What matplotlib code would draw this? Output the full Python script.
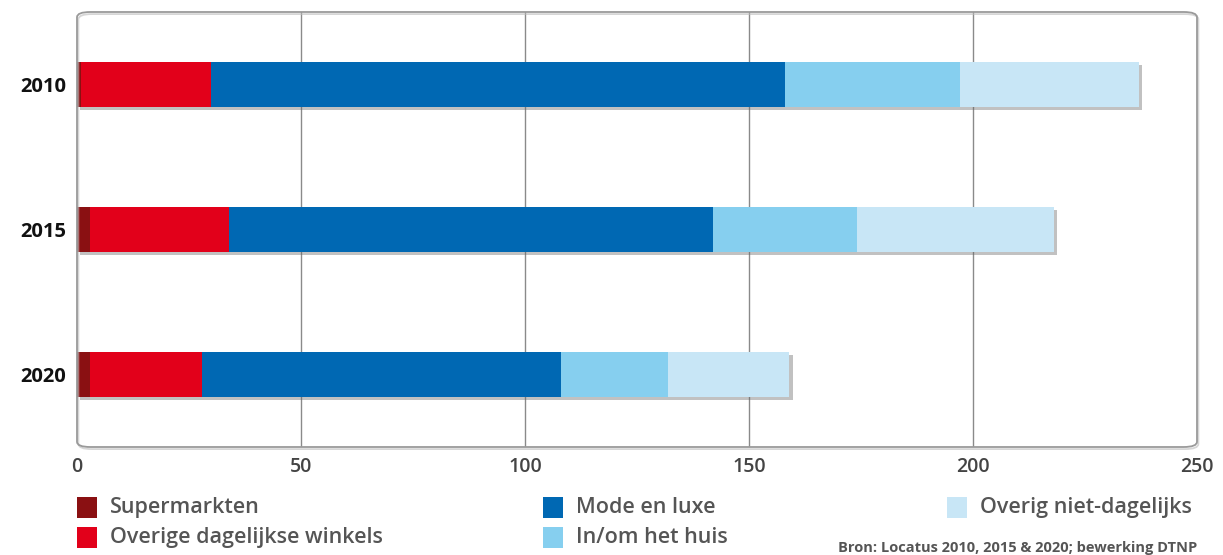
import matplotlib
matplotlib.use("Agg")
import matplotlib.pyplot as plt
import matplotlib.patheffects as pe
from matplotlib.patches import Rectangle, FancyBboxPatch
import numpy as np

years = ["2010", "2015", "2020"]
series_names = ["Supermarkten", "Overige dagelijkse winkels", "Mode en luxe",
                "In/om het huis", "Overig niet-dagelijks"]
supermarkten = [1, 3, 3]
overige_dagelijks = [29, 31, 25]
mode_en_luxe = [128, 108, 80]
in_om_het_huis = [39, 32, 24]
overig_niet_dagelijks = [40, 44, 27]
x_ticks = [0, 50, 100, 150, 200, 250]
source = "Bron: Locatus 2010, 2015 & 2020; bewerking DTNP"

colors = ["#8a1012", "#e2001a", "#0068b3", "#86cfef", "#c8e6f6"]
series = [supermarkten, overige_dagelijks, mode_en_luxe, in_om_het_huis, overig_niet_dagelijks]

plt.rcParams['font.family'] = ['Open Sans', 'DejaVu Sans']

W, H = 1223, 555
fig = plt.figure(figsize=(W / 100, H / 100), dpi=100)
ax = fig.add_axes([77 / W, 1 - 447 / H, (1197 - 77) / W, (447 - 12) / H])

y = np.arange(len(years))
left = np.zeros(len(years))
shadow = [pe.SimplePatchShadow(offset=(2.5, -2.5), shadow_rgbFace="#666666", alpha=0.4), pe.Normal()]
for vals, c in zip(series, colors):
    ax.barh(y, vals, left=left, height=0.31, color=c, edgecolor="none",
            zorder=3, path_effects=shadow)
    left += np.array(vals)

ax.set_xlim(0, 250)
ax.set_ylim(2.5, -0.5)
ax.set_xticks(x_ticks)
ax.set_xticklabels([str(t) for t in x_ticks], color="#444444", fontsize=14, fontweight="semibold")
ax.set_yticks(y)
ax.set_yticklabels(years, color="#111111", fontsize=14.5, fontweight="bold")
ax.tick_params(axis="both", length=0)
ax.tick_params(axis="x", pad=7)
ax.tick_params(axis="y", pad=8)
for t in x_ticks[1:-1]:
    ax.axvline(t, color="#8a8a8a", lw=1.0, zorder=1)
for s in ax.spines.values():
    s.set_visible(False)

frame = FancyBboxPatch((0, 0), 1, 1, boxstyle="round,pad=0,rounding_size=0.012",
                       transform=ax.transAxes, fill=False, edgecolor="#9a9a9a", lw=1.3,
                       clip_on=False, zorder=4,
                       path_effects=[pe.SimpleLineShadow(offset=(1, -1.5), shadow_color="#bbbbbb", alpha=0.6), pe.Normal()])
ax.add_patch(frame)

# legend (manual layout)
leg_pos = [(77, 497), (77, 527), (543, 497), (543, 527), (947, 497)]
for (px, py), name, c in zip(leg_pos, series_names, colors):
    fig.patches.append(Rectangle((px / W, 1 - (py + 21) / H), 20 / W, 21 / H,
                                 transform=fig.transFigure, facecolor=c, edgecolor="none"))
    fig.text((px + 33) / W, 1 - (py + 10.5) / H, name, fontsize=15.5, color="#555555",
             fontweight="semibold", va="center", ha="left")

fig.text(1197 / W, 1 - 548 / H, source, fontsize=10.5, color="#555555",
         fontweight="bold", va="center", ha="right")

fig.savefig("out.png", dpi=100)
